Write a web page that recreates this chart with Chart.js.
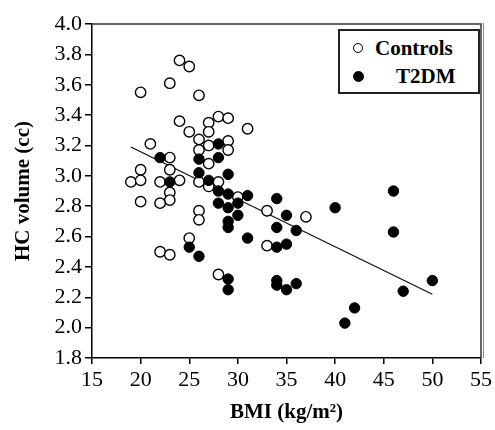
<!DOCTYPE html>
<html lang="en">
<head>
    <meta charset="UTF-8">
    <title>HC volume vs BMI</title>
    <script src="https://cdn.jsdelivr.net/npm/chart.js"></script>
    <style>
        body { margin: 0; background: #fff; }
        #wrap { position: relative; width: 495px; height: 430px; }
        #legendBox {
            position: absolute;
            left: 338px; top: 29px;
            width: 138px; height: 61px;
            border: 2px solid #222;
            background: #fff;
            font: bold 21px 'Liberation Serif', serif;
            color: #000;
        }
        .row { position: absolute; height: 24px; line-height: 24px; white-space: nowrap; }
        .mark { position: absolute; border-radius: 50%; box-sizing: border-box; }
    </style>
</head>
<body>
    <div id="wrap">
        <canvas id="scatterChart"></canvas>
        <div id="legendBox"></div>
    </div>

    <script>
        // values
        const controlsBMI = [24, 25, 23, 20, 26, 24, 27, 28, 29, 25, 27, 26, 21, 29, 27, 26, 29, 23, 27, 20, 23,
                             19, 20, 22, 24, 26, 27, 28, 23, 23, 22, 20, 26, 26, 25, 22, 23, 28, 31, 30, 33, 37, 33];
        const controlsHC = [3.76, 3.72, 3.61, 3.55, 3.53, 3.36, 3.35, 3.39, 3.38, 3.29, 3.29, 3.24, 3.21, 3.23, 3.20, 3.17, 3.17, 3.12, 3.08, 3.04, 3.04,
                            2.96, 2.97, 2.96, 2.97, 2.96, 2.93, 2.96, 2.89, 2.84, 2.82, 2.83, 2.77, 2.71, 2.59, 2.50, 2.48, 2.35, 3.31, 2.86, 2.77, 2.73, 2.54];

        const t2dmBMI = [22, 28, 26, 28, 23, 26, 27, 29, 28, 29, 31, 28, 30, 29, 30, 29, 29, 31, 25, 26,
                         29, 29, 34, 35, 34, 36, 40, 34, 35, 34, 34, 35, 36, 46, 46, 50, 47, 42, 41];
        const t2dmHC = [3.12, 3.21, 3.11, 3.12, 2.96, 3.02, 2.97, 3.01, 2.90, 2.88, 2.87, 2.82, 2.82, 2.79, 2.74, 2.70, 2.66, 2.59, 2.53, 2.47,
                        2.32, 2.25, 2.85, 2.74, 2.66, 2.64, 2.79, 2.53, 2.55, 2.31, 2.28, 2.25, 2.29, 2.90, 2.63, 2.31, 2.24, 2.13, 2.03];

        // fitted line end points as drawn
        const trendBMI = [19, 50];
        const trendHC = [3.19, 2.22];

        const xTicks = { min: 15, max: 55, step: 5 };
        const yTicks = { min: 1.8, max: 4.0, step: 0.2 };

        const toPoints = (xs, ys) => xs.map((x, i) => ({ x: x, y: ys[i] }));

        const serif = "'Liberation Serif', 'Times New Roman', serif";

        // top and right frame of the plot box
        const framePlugin = {
            id: 'frame',
            afterDraw(chart) {
                const { ctx, chartArea: a } = chart;
                ctx.save();
                ctx.strokeStyle = '#333';
                ctx.lineWidth = 1.5;
                ctx.beginPath();
                ctx.moveTo(a.left, a.top);
                ctx.lineTo(a.right, a.top);
                ctx.lineTo(a.right, a.bottom);
                ctx.stroke();
                ctx.strokeStyle = '#888';
                ctx.lineWidth = 1;
                ctx.beginPath();
                ctx.moveTo(a.right + 2.5, a.top - 1);
                ctx.lineTo(a.right + 2.5, a.bottom);
                ctx.stroke();
                ctx.restore();
            }
        };

        const ctx = document.getElementById('scatterChart').getContext('2d');
        const chart = new Chart(ctx, {
            type: 'scatter',
            data: {
                datasets: [{
                    label: 'Controls',
                    data: toPoints(controlsBMI, controlsHC),
                    backgroundColor: '#fff',
                    borderColor: '#000',
                    borderWidth: 1.4,
                    pointRadius: 5.2,
                    order: 2
                }, {
                    label: 'T2DM',
                    data: toPoints(t2dmBMI, t2dmHC),
                    backgroundColor: '#000',
                    borderColor: '#000',
                    borderWidth: 1,
                    pointRadius: 5.2,
                    order: 1
                }, {
                    label: 'trend',
                    type: 'line',
                    data: toPoints(trendBMI, trendHC),
                    borderColor: '#111',
                    borderWidth: 1.3,
                    pointRadius: 0,
                    fill: false,
                    order: 3
                }]
            },
            options: {
                responsive: true,
                maintainAspectRatio: false,
                animation: false,
                layout: { padding: { top: 24, right: 12, left: 0, bottom: 0 } },
                plugins: {
                    legend: { display: false },
                    tooltip: { enabled: false }
                },
                scales: {
                    x: {
                        type: 'linear',
                        position: 'bottom',
                        min: xTicks.min,
                        max: xTicks.max,
                        afterFit: s => { s.height = 72; },
                        border: { display: true, color: '#000', width: 1.5 },
                        grid: { drawOnChartArea: false, drawTicks: true, tickLength: 6, color: '#000', lineWidth: 1.5 },
                        ticks: {
                            stepSize: xTicks.step,
                            padding: 3,
                            color: '#000',
                            font: { family: serif, size: 22 }
                        },
                        title: {
                            display: true,
                            text: 'BMI (kg/m²)',
                            color: '#000',
                            font: { family: serif, size: 21, weight: 'bold' },
                            padding: { top: 0, bottom: 5 }
                        }
                    },
                    y: {
                        min: yTicks.min,
                        max: yTicks.max,
                        afterFit: s => { s.width = 92; },
                        border: { display: true, color: '#000', width: 1.5 },
                        grid: { drawOnChartArea: false, drawTicks: true, tickLength: 7, color: '#000', lineWidth: 1.5 },
                        ticks: {
                            stepSize: yTicks.step,
                            padding: 3,
                            color: '#000',
                            font: { family: serif, size: 22 },
                            callback: v => Number(v).toFixed(1)
                        },
                        title: {
                            display: true,
                            text: 'HC volume (cc)',
                            color: '#000',
                            font: { family: serif, size: 21, weight: 'bold' },
                            padding: { top: 11, bottom: 0 }
                        }
                    }
                }
            },
            plugins: [framePlugin]
        });

        // legend box inside the plot, built from the datasets
        const legendRows = [
            { ds: chart.data.datasets[0], top: 5, textLeft: 35, size: 10 },
            { ds: chart.data.datasets[1], top: 33, textLeft: 56, size: 11 }
        ];
        const box = document.getElementById('legendBox');
        legendRows.forEach(r => {
            const row = document.createElement('div');
            row.className = 'row';
            row.style.top = r.top + 'px';
            row.style.left = '0px';
            row.style.width = '100%';
            const m = document.createElement('span');
            m.className = 'mark';
            m.style.width = r.size + 'px';
            m.style.height = r.size + 'px';
            m.style.left = (18 - r.size / 2) + 'px';
            m.style.top = (12 - r.size / 2) + 'px';
            m.style.background = r.ds.backgroundColor;
            m.style.border = '1.4px solid ' + r.ds.borderColor;
            const t = document.createElement('span');
            t.style.position = 'absolute';
            t.style.left = r.textLeft + 'px';
            t.textContent = r.ds.label;
            row.appendChild(m);
            row.appendChild(t);
            box.appendChild(row);
        });
    </script>
</body>
</html>
